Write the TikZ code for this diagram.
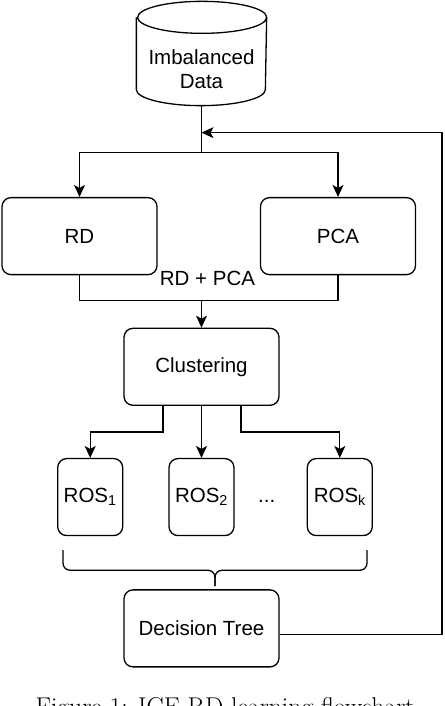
\documentclass[tikz,border=0pt]{standalone}
\usepackage{fontspec}
\newfontfamily\flowfont{Liberation Sans}
\usepackage{tikz}
\usetikzlibrary{arrows.meta, positioning, calc}

\begin{document}
\begin{tikzpicture}[
    line width=1.3pt,
    >={Stealth[length=12pt, width=11pt, inset=3pt]},
    base/.style={
        draw,
        align=center,
        font=\flowfont\fontsize{20.5}{24}\selectfont,
        rounded corners=9pt,
        inner sep=0pt
    },
    stepbox/.style={base, minimum width=155pt, minimum height=77pt},
    rosbox/.style={base, minimum width=65pt, minimum height=77pt},
    flow_label/.style={font=\flowfont\fontsize{20.5}{24}\selectfont, inner sep=0pt, align=center},
    caption_text/.style={font=\fontsize{25.7}{30}\selectfont, anchor=base}
]
    \useasboundingbox (0,0) rectangle (444pt,706pt);

    % DATA SOURCE (cylinder body round the text)
    \node[flow_label, minimum width=129pt, minimum height=71pt] (data) at (201.5pt,636.5pt) {Imbalanced\\Data};
    \draw ([yshift=16pt]data.north west) -- ([yshift=16pt]data.south west)
        arc[start angle=180, end angle=360, x radius=64.5pt, y radius=16pt]
        -- ([yshift=16pt]data.north east)
        arc[start angle=0, end angle=360, x radius=64.5pt, y radius=16pt];

    % REDUCTION STEPS
    \node[stepbox] (rd) at ([xshift=-122pt, yshift=-130.5pt]data.south) {RD};
    \node[stepbox] (pca) at ([xshift=136.5pt, yshift=-130.5pt]data.south) {PCA};

    % CLUSTERING AND OVERSAMPLING
    \node[stepbox, below=222pt of data] (clus) {Clustering};
    \node[rosbox, below=52pt of clus] (ros2) {ROS\textsubscript{2}};
    \node[rosbox, left=45pt of ros2] (ros1) {ROS\textsubscript{1}};
    \node[rosbox, right=72pt of ros2] (rosk) {ROS\textsubscript{k}};
    \node[flow_label] (dots) at ([xshift=32pt, yshift=-4pt]ros2.east) {...};

    % CLASSIFIER
    \node[stepbox, below=53pt of ros2] (dt) {Decision Tree};

    \node[caption_text] (cap) at (225pt,-9.5pt) {Figure 1: ICE-RD learning flowchart};

    % helper points
    \coordinate (split) at ([yshift=-47pt]data.south);
    \coordinate (back) at ([yshift=-27pt]data.south);
    \coordinate (merge) at ([yshift=27pt]clus.north);
    \coordinate (rail) at (442pt,0);

    \draw (data.south) -- (split);
    \draw[->] (split) -| (rd.north);
    \draw[->] (split) -| (pca.north);

    \draw (rd.south) |- (merge) -| (pca.south);
    \draw[->] (merge) -- (clus.north);
    \node[flow_label] (rdpca) at ([xshift=6pt, yshift=22pt]merge) {RD + PCA};

    \draw[->] ([xshift=-38.5pt]clus.south) -- ++(0,-26pt) -| (ros1.north);
    \draw[->] (clus.south) -- (ros2.north);
    \draw[->] ([xshift=39.5pt]clus.south) -- ++(0,-26pt) -| (rosk.north);

    % brace under the ROS boxes
    \coordinate (bl) at ([xshift=6pt, yshift=-14pt]ros1.south west);
    \coordinate (br) at ([xshift=-6pt, yshift=-14pt]rosk.south east);
    \coordinate (btip) at ($(bl)!0.5!(br)+(0,-36pt)$);
    \draw[rounded corners=7pt] (bl) |- ($(btip)+(0,16pt)$) -- (btip);
    \draw[rounded corners=7pt] (br) |- ($(btip)+(0,16pt)$) -- (btip);

    % feedback loop
    \draw[->] ([yshift=-6pt]dt.east) -- ([yshift=-6pt]dt.east -| rail) |- (back);

\end{tikzpicture}
\end{document}
